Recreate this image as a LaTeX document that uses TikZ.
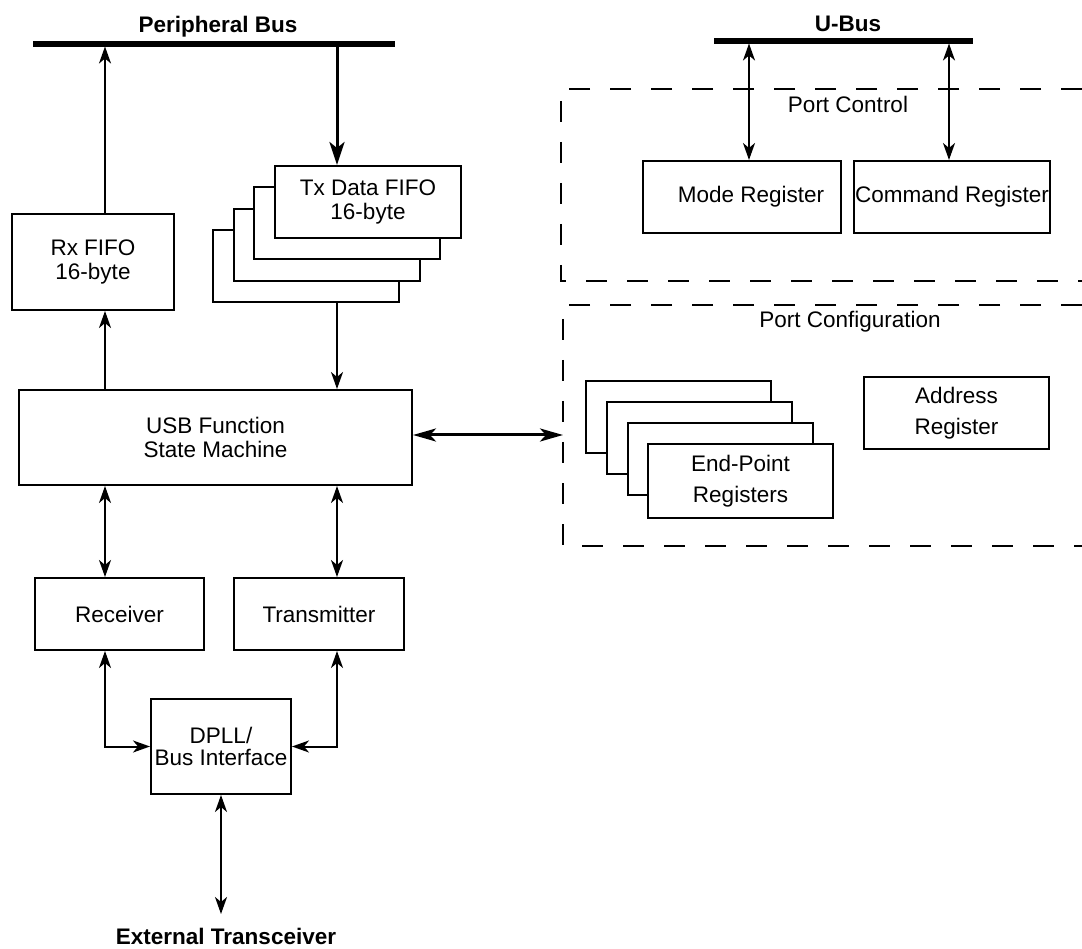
\documentclass[tikz,border=0pt]{standalone}
\usepackage{fontspec}
\setmainfont{Liberation Sans}
\usetikzlibrary{arrows.meta,calc}
\begin{document}
\begin{tikzpicture}[x=1pt,y=-1pt,
  every node/.style={font=\fontsize{22.5}{24}\selectfont},
  box/.style={draw, line width=2pt, fill=white, inner sep=0pt, align=center},
  wide/.style={font=\fontsize{22.5}{31}\selectfont},
  tight/.style={font=\fontsize{22.5}{22}\selectfont},
  bus/.style={line width=5.5pt},
  conn/.style={line width=2pt, -{Stealth[length=17pt,width=12pt,inset=5pt]}},
  biconn/.style={line width=2pt, {Stealth[length=17pt,width=12pt,inset=5pt]}-{Stealth[length=17pt,width=12pt,inset=5pt]}},
  heavyconn/.style={line width=3pt, -{Stealth[length=23pt,width=15pt,inset=6pt]}},
  heavybi/.style={line width=3pt, {Stealth[length=23pt,width=13pt,inset=6pt]}-{Stealth[length=23pt,width=13pt,inset=6pt]}},
  region/.style={line width=2pt, dash pattern=on 21pt off 20pt},
  title/.style={font=\fontsize{22.5}{24}\bfseries\selectfont, anchor=base, inner sep=0pt},
  caption/.style={anchor=base, inner sep=0pt},
]
\useasboundingbox (0,0) rectangle (1082,949);

% guide coordinates
\coordinate (xa) at (105,0);
\coordinate (xb) at (337,0);
\coordinate (xc) at (749,0);
\coordinate (xd) at (949,0);
\coordinate (ya) at (0,435);

% buses
\coordinate (pbL) at (33,44);
\coordinate (pbR) at (395,44);
\coordinate (ubL) at (714,41);
\coordinate (ubR) at (973,41);
\draw[bus] (pbL) -- (pbR);
\draw[bus] (ubL) -- (ubR);
\node[title] (pbt) at (218,33) {Peripheral Bus};
\node[title] (ubt) at (848,32) {U-Bus};

% dashed regions
\draw[region] (1082,89) -- (561,89) -- (561,281) -- (1082,281);
\node[caption] (pct) at (848,113) {Port Control};
\coordinate (pcfgL) at (563,305);
\draw[region] (1082,305) -- (pcfgL) -- (563,546) -- (1082,546);
\node[caption] (pcft) at (850,328) {Port Configuration};

% left column
\node[box, minimum width=162pt, minimum height=96pt] (rxfifo) at (93,262) {Rx FIFO\\16-byte};
\node[box, minimum width=186pt, minimum height=72pt] (tx4) at (306,266) {};
\node[box, minimum width=186pt, minimum height=72pt] (tx3) at (327,245) {};
\node[box, minimum width=186pt, minimum height=72pt] (tx2) at (347,223) {};
\node[box, minimum width=186pt, minimum height=72pt] (tx1) at (368,202) {Tx Data FIFO\\16-byte};
\node[box, minimum width=393pt, minimum height=95pt] (fsm) at (215.5,437.5) {USB Function\\State Machine};
\node[box, minimum width=169pt, minimum height=72pt] (rcv) at (119.5,614) {Receiver};
\node[box, minimum width=170pt, minimum height=72pt] (trm) at (319,614) {Transmitter};
\node[box, tight, minimum width=140pt, minimum height=95pt] (dpll) at (221,746.5) {DPLL/\\Bus Interface};
\coordinate (extc) at (221,914);
\node[title] (ext) at (226,944) {External Transceiver};

% right side
\node[box, minimum width=198pt, minimum height=72pt] (mode) at (742,197) {\hspace*{18pt}Mode Register};
\node[box, minimum width=196pt, minimum height=72pt] (cmd) at (952,197) {Command Register};
\node[box, minimum width=185pt, minimum height=72pt] (ep4) at (678.5,417) {};
\node[box, minimum width=185pt, minimum height=72pt] (ep3) at (699.5,438) {};
\node[box, minimum width=185pt, minimum height=72pt] (ep2) at (720.5,459) {};
\node[box, wide, minimum width=185pt, minimum height=74pt] (ep1) at (740.5,481) {End-Point\\Registers};
\node[box, wide, minimum width=185pt, minimum height=72pt] (addr) at (956.5,413) {Address\\Register};

% connectors
\draw[conn, shorten >=2.5pt] (rxfifo.north -| xa) -- (xa |- pbL);
\draw[heavyconn] (xb |- pbL) -- (tx1.north -| xb);
\draw[conn] (fsm.north -| xa) -- (rxfifo.south -| xa);
\draw[conn] (tx4.south -| xb) -- (fsm.north -| xb);
\draw[biconn] (fsm.south -| xa) -- (rcv.north -| xa);
\draw[biconn] (fsm.south -| xb) -- (trm.north -| xb);
\draw[biconn] (rcv.south -| xa) |- (dpll.west);
\draw[biconn] (trm.south -| xb) |- (dpll.east);
\draw[biconn] (dpll.south) -- (extc);
\draw[heavybi] (fsm.east |- ya) -- (pcfgL |- ya);
\draw[biconn, shorten <=2.5pt] (xc |- ubL) -- (mode.north -| xc);
\draw[biconn, shorten <=2.5pt] (xd |- ubL) -- (cmd.north -| xd);
\end{tikzpicture}
\end{document}
